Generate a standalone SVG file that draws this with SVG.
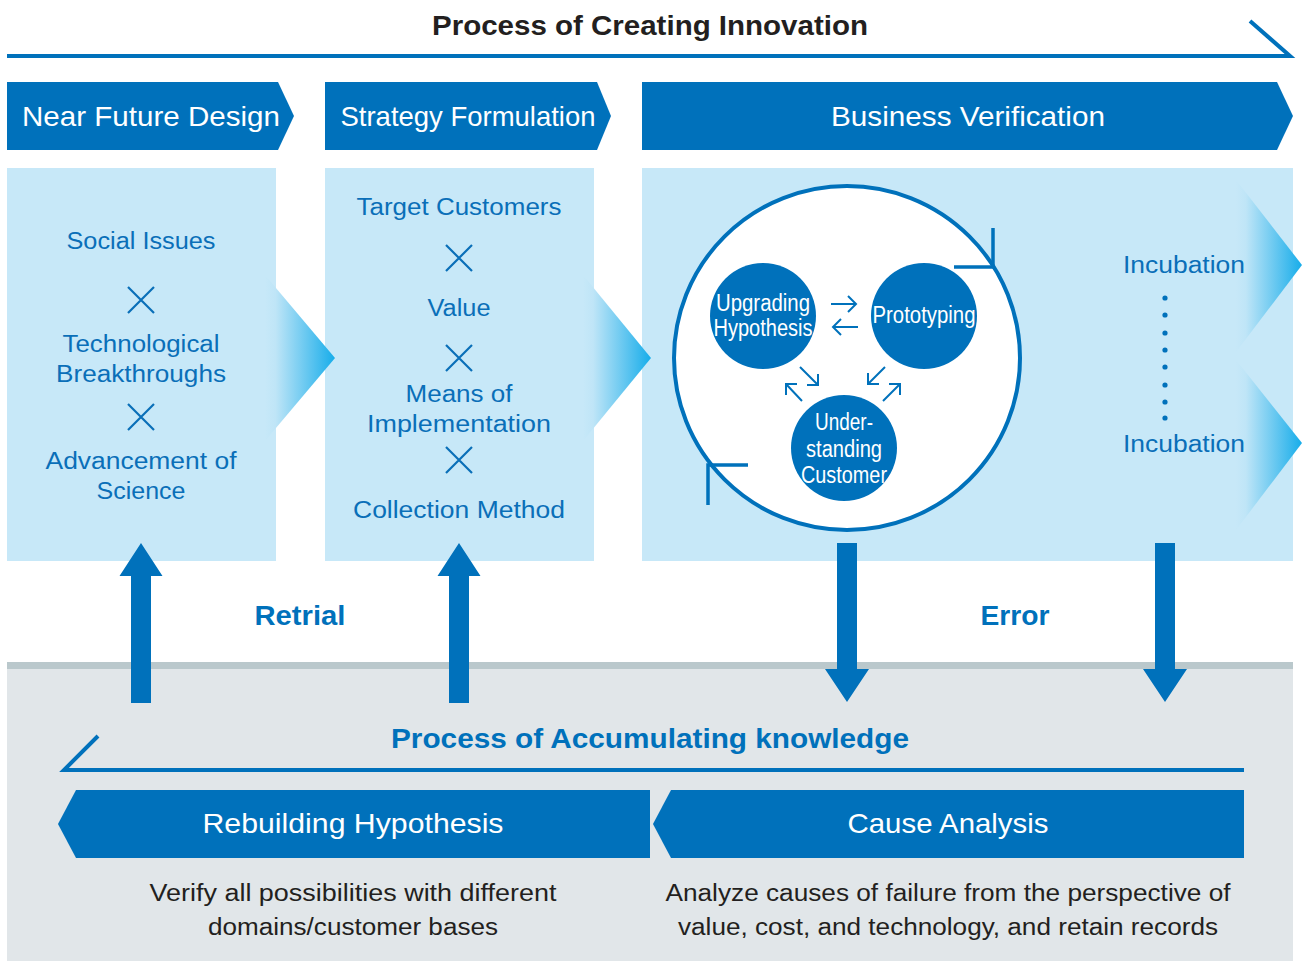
<svg xmlns="http://www.w3.org/2000/svg" width="1302" height="961" viewBox="0 0 1302 961">
<style>
text{font-family:"Liberation Sans",Arial,sans-serif}
.hd{fill:#fff;font-size:28px;text-anchor:middle}
.bt{fill:#0a6fb8;font-size:23px;text-anchor:middle}
.ct{fill:#fff;font-size:23px;text-anchor:middle}
.bl{fill:#0071bb;font-size:28px;font-weight:bold;text-anchor:middle}
.ds{fill:#231f20;font-size:23px;text-anchor:middle}
.blue{fill:#0071bb}
.panel{fill:#c7e8f8}
.x{stroke:#0a6fb8;stroke-width:2.2;fill:none}
.ln{stroke:#0071bb;fill:none}
</style>
<defs>
<linearGradient id="chev" x1="0" y1="0" x2="1" y2="0">
<stop offset="0" stop-color="#c7e8f8"/>
<stop offset="0.15" stop-color="#bfe5f7"/>
<stop offset="1" stop-color="#17adea"/>
</linearGradient>
</defs>

<g id="title">
<text x="650" y="35" style="font-size:28px;font-weight:bold;fill:#231f20;text-anchor:middle" textLength="436" lengthAdjust="spacingAndGlyphs">Process of Creating Innovation</text>
<path class="ln" d="M7 56 H1290 L1250 21" stroke-width="4"/>
</g>

<g id="panels">
<rect class="panel" x="7" y="168" width="269" height="393"/>
<rect class="panel" x="325" y="168" width="269" height="393"/>
<rect class="panel" x="642" y="168" width="651" height="393"/>
<polygon fill="url(#chev)" points="265,275 335,358 265,441"/>
<polygon fill="url(#chev)" points="583,275 651,358 583,441"/>
<polygon fill="url(#chev)" points="1236,180 1302,265 1236,352"/>
<polygon fill="url(#chev)" points="1236,360 1302,443 1236,530"/>
</g>

<g id="gray-area">
<rect x="7" y="662" width="1286" height="299" fill="#e1e6e9"/>
<rect x="7" y="662" width="1286" height="7" fill="#bac8cc"/>
</g>

<g id="near-future-design">
<polygon class="blue" points="7,82 278,82 294,116 278,150 7,150"/>
<text class="hd" x="151" y="126" textLength="258" lengthAdjust="spacingAndGlyphs">Near Future Design</text>
<text class="bt" x="141" y="249" textLength="149" lengthAdjust="spacingAndGlyphs">Social Issues</text>
<path class="x" d="M128 287 L154 313 M154 287 L128 313"/>
<text class="bt" x="141" y="352" textLength="157" lengthAdjust="spacingAndGlyphs">Technological</text>
<text class="bt" x="141" y="382" textLength="170" lengthAdjust="spacingAndGlyphs">Breakthroughs</text>
<path class="x" d="M128 404 L154 430 M154 404 L128 430"/>
<text class="bt" x="141" y="469" textLength="191" lengthAdjust="spacingAndGlyphs">Advancement of</text>
<text class="bt" x="141" y="499" textLength="89" lengthAdjust="spacingAndGlyphs">Science</text>
</g>

<g id="strategy-formulation">
<polygon class="blue" points="325,82 597,82 611,116 597,150 325,150"/>
<text class="hd" x="468" y="126" textLength="255" lengthAdjust="spacingAndGlyphs">Strategy Formulation</text>
<text class="bt" x="459" y="215" textLength="205" lengthAdjust="spacingAndGlyphs">Target Customers</text>
<path class="x" d="M446 245 L472 271 M472 245 L446 271"/>
<text class="bt" x="459" y="316" textLength="63" lengthAdjust="spacingAndGlyphs">Value</text>
<path class="x" d="M446 345 L472 371 M472 345 L446 371"/>
<text class="bt" x="459" y="402" textLength="107" lengthAdjust="spacingAndGlyphs">Means of</text>
<text class="bt" x="459" y="432" textLength="184" lengthAdjust="spacingAndGlyphs">Implementation</text>
<path class="x" d="M446 447 L472 473 M472 447 L446 473"/>
<text class="bt" x="459" y="518" textLength="212" lengthAdjust="spacingAndGlyphs">Collection Method</text>
</g>

<g id="business-verification">
<polygon class="blue" points="642,82 1277,82 1293,116 1277,150 642,150"/>
<text class="hd" x="968" y="126" textLength="274" lengthAdjust="spacingAndGlyphs">Business Verification</text>
<ellipse cx="847" cy="358" rx="173" ry="172" fill="#fff" stroke="#0071bb" stroke-width="4"/>
<path class="ln" stroke-width="3.5" d="M993 228 V267 H954"/>
<path class="ln" stroke-width="3.5" d="M708 505 V465 H748"/>
</g>

<g id="upgrading-hypothesis">
<circle class="blue" cx="763" cy="316" r="53"/>
<text class="ct" x="763" y="311" textLength="94" lengthAdjust="spacingAndGlyphs">Upgrading</text>
<text class="ct" x="763" y="336" textLength="99" lengthAdjust="spacingAndGlyphs">Hypothesis</text>
</g>
<g id="prototyping">
<circle class="blue" cx="924" cy="316" r="53"/>
<text class="ct" x="924" y="323" textLength="103" lengthAdjust="spacingAndGlyphs">Prototyping</text>
</g>
<g id="understanding-customer">
<circle class="blue" cx="844" cy="448" r="53"/>
<text class="ct" x="844" y="430" textLength="58" lengthAdjust="spacingAndGlyphs">Under-</text>
<text class="ct" x="844" y="457" textLength="76" lengthAdjust="spacingAndGlyphs">standing</text>
<text class="ct" x="844" y="483" textLength="86" lengthAdjust="spacingAndGlyphs">Customer</text>
</g>

<g id="incubation">
<text class="bt" x="1184" y="273" textLength="122" lengthAdjust="spacingAndGlyphs">Incubation</text>
<text class="bt" x="1184" y="452" textLength="122" lengthAdjust="spacingAndGlyphs">Incubation</text>
<g fill="#0071bb">
<circle cx="1165" cy="298" r="2.6"/><circle cx="1165" cy="315" r="2.6"/><circle cx="1165" cy="333" r="2.6"/><circle cx="1165" cy="350" r="2.6"/>
<circle cx="1165" cy="367" r="2.6"/><circle cx="1165" cy="385" r="2.6"/><circle cx="1165" cy="402" r="2.6"/><circle cx="1165" cy="418" r="2.6"/>
</g>
</g>

<g id="connectors" fill="none" stroke="#0071bb" stroke-width="2">
<path d="M831 304 H856 M848 296 L856 304 L848 312"/>
<path d="M858 327 H833 M841 319 L833 327 L841 335"/>
<path d="M800 367 L818 385 M818 374 V385 H807"/>
<path d="M802 401 L786 384 M786 395 V384 H797"/>
<path d="M885 367 L868 384 M868 373 V384 H879"/>
<path d="M883 401 L900 384 M889 384 H900 V395"/>
</g>

<g id="feedback-arrows" fill="#0071bb">
<path d="M131 703 V576 H119.5 L141 543 L162.5 576 H151 V703 Z"/>
<path d="M449 703 V576 H437.5 L459 543 L480.5 576 H469 V703 Z"/>
<path d="M837 543 V669 H825 L847 702 L869 669 H857 V543 Z"/>
<path d="M1155 543 V669 H1143 L1165 702 L1187 669 H1175 V543 Z"/>
<text class="bl" x="300" y="625" textLength="91" lengthAdjust="spacingAndGlyphs">Retrial</text>
<text class="bl" x="1015" y="625" textLength="69" lengthAdjust="spacingAndGlyphs">Error</text>
</g>

<g id="accumulating">
<text class="bl" x="650" y="748" textLength="518" lengthAdjust="spacingAndGlyphs">Process of Accumulating knowledge</text>
<path class="ln" stroke-width="4" d="M1244 770 H64 L98 736"/>
</g>

<g id="rebuilding-hypothesis">
<polygon class="blue" points="650,790 76,790 58,824 76,858 650,858"/>
<text class="hd" x="353" y="833" textLength="301" lengthAdjust="spacingAndGlyphs">Rebuilding Hypothesis</text>
<text class="ds" x="353" y="901" textLength="407" lengthAdjust="spacingAndGlyphs">Verify all possibilities with different</text>
<text class="ds" x="353" y="935" textLength="290" lengthAdjust="spacingAndGlyphs">domains/customer bases</text>
</g>

<g id="cause-analysis">
<polygon class="blue" points="1244,790 671,790 653,824 671,858 1244,858"/>
<text class="hd" x="948" y="833" textLength="201" lengthAdjust="spacingAndGlyphs">Cause Analysis</text>
<text class="ds" x="948" y="901" textLength="565" lengthAdjust="spacingAndGlyphs">Analyze causes of failure from the perspective of</text>
<text class="ds" x="948" y="935" textLength="540" lengthAdjust="spacingAndGlyphs">value, cost, and technology, and retain records</text>
</g>
</svg>
